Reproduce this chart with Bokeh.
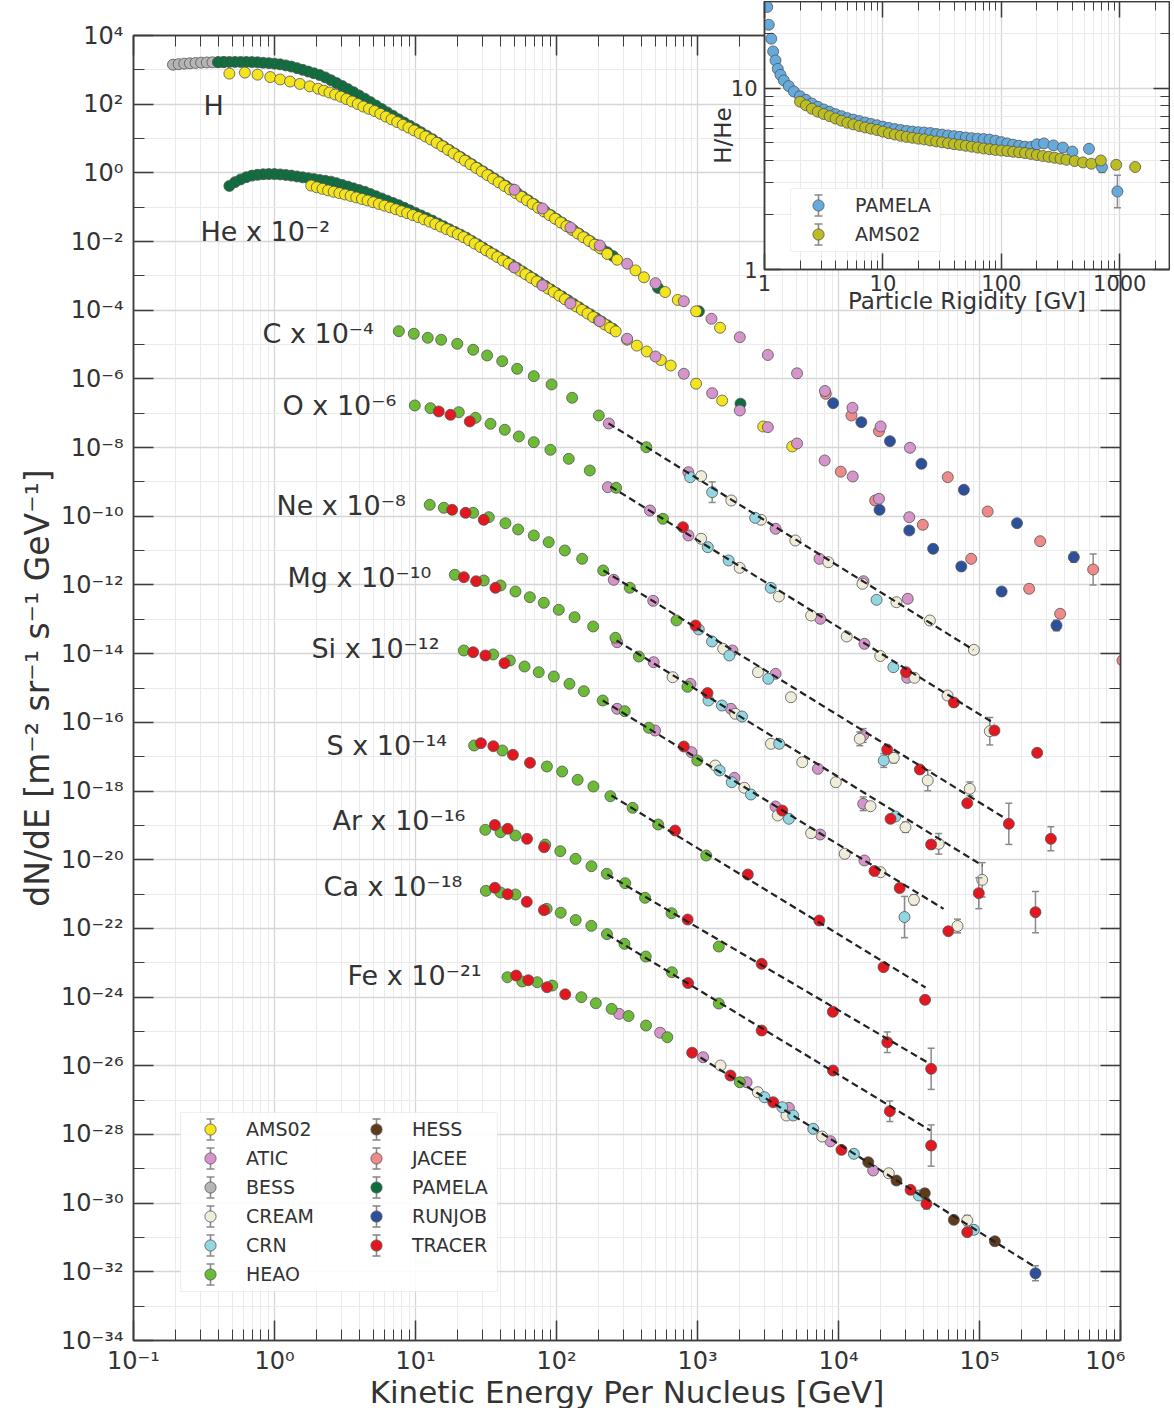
import numpy as np
from bokeh.plotting import figure
from bokeh.models import (FixedTicker, LogAxis, Label, Legend, LegendItem, BoxAnnotation,
                          CustomJSTickFormatter, Range1d)
from bokeh.layouts import column
from bokeh.embed import file_html
from bokeh.resources import INLINE

# ------------------------------------------------------------------
# DATA  (log10 kinetic energy per nucleus [GeV], log10 scaled flux)
# ------------------------------------------------------------------
H_BESS = [(-0.72, 3.15), (-0.68, 3.165), (-0.64, 3.18), (-0.60, 3.19), (-0.56, 3.20),
          (-0.52, 3.21), (-0.48, 3.215), (-0.44, 3.22), (-0.40, 3.225), (-0.36, 3.23)]

H_PAMELA = [(-0.40, 3.22), (-0.36, 3.225), (-0.32, 3.23), (-0.28, 3.23), (-0.24, 3.23), (-0.20, 3.23),
            (-0.16, 3.225), (-0.12, 3.22), (-0.08, 3.205), (-0.04, 3.195), (0.00, 3.18), (0.04, 3.16),
            (0.08, 3.13), (0.12, 3.095), (0.16, 3.05), (0.20, 3.00), (0.24, 2.95), (0.28, 2.90),
            (0.32, 2.85), (0.36, 2.78), (0.40, 2.70), (0.44, 2.615), (0.48, 2.53), (0.52, 2.44),
            (0.56, 2.35), (0.60, 2.255), (0.64, 2.16), (0.68, 2.06), (0.72, 1.96), (0.76, 1.86),
            (0.80, 1.76), (0.84, 1.66), (0.88, 1.56), (0.92, 1.465), (0.96, 1.37), (1.00, 1.28),
            (1.04, 1.18), (1.08, 1.08), (1.12, 0.98), (1.16, 0.875), (1.20, 0.77), (1.24, 0.665),
            (1.28, 0.56), (1.32, 0.46), (1.36, 0.355), (1.40, 0.25), (1.44, 0.145), (1.48, 0.04),
            (1.52, -0.06), (1.56, -0.165), (1.60, -0.27), (1.64, -0.375), (1.68, -0.48), (1.72, -0.585),
            (1.76, -0.69), (1.80, -0.80), (1.84, -0.91), (1.88, -1.015), (1.92, -1.125), (1.96, -1.23),
            (2.00, -1.34), (2.04, -1.45), (2.08, -1.555), (2.12, -1.665), (2.16, -1.77), (2.20, -1.88),
            (2.24, -1.99), (2.28, -2.095), (2.32, -2.205), (2.36, -2.31), (2.40, -2.42),
            (2.72, -3.35), (3.01, -4.03)]

H_AMS02 = [(-0.32, 2.89), (-0.21, 2.92), (-0.12, 2.86), (-0.03, 2.79), (0.04, 2.72), (0.11, 2.66),
           (0.18, 2.59), (0.25, 2.52), (0.31, 2.45), (0.35, 2.395), (0.39, 2.34), (0.43, 2.28),
           (0.47, 2.22), (0.51, 2.15), (0.55, 2.08), (0.59, 2.005), (0.63, 1.93), (0.67, 1.865),
           (0.71, 1.80), (0.75, 1.72), (0.79, 1.64), (0.83, 1.56), (0.87, 1.48), (0.91, 1.40),
           (0.95, 1.32), (0.99, 1.235), (1.03, 1.15), (1.07, 1.06), (1.11, 0.97), (1.15, 0.875),
           (1.19, 0.775), (1.23, 0.67), (1.27, 0.565), (1.31, 0.46), (1.35, 0.355), (1.39, 0.25),
           (1.43, 0.145), (1.47, 0.04), (1.51, -0.065), (1.55, -0.17), (1.59, -0.275), (1.63, -0.38),
           (1.67, -0.485), (1.71, -0.59), (1.75, -0.695), (1.79, -0.80), (1.83, -0.905), (1.87, -1.015),
           (1.91, -1.12), (1.95, -1.23), (1.99, -1.335), (2.03, -1.445), (2.07, -1.55), (2.11, -1.66),
           (2.15, -1.765), (2.19, -1.875), (2.23, -1.98), (2.27, -2.09), (2.31, -2.195), (2.36, -2.36),
           (2.43, -2.53), (2.56, -2.84), (2.62, -3.04), (2.77, -3.47), (2.86, -3.70), (2.99, -4.03),
           (3.16, -4.51)]

He_PAMELA = [(-0.32, -0.38), (-0.28, -0.27), (-0.24, -0.19), (-0.20, -0.125), (-0.16, -0.08),
             (-0.12, -0.055), (-0.08, -0.04), (-0.04, -0.035), (0.00, -0.035), (0.04, -0.045),
             (0.08, -0.06), (0.12, -0.08), (0.16, -0.105), (0.20, -0.13), (0.24, -0.155), (0.28, -0.18),
             (0.32, -0.205), (0.36, -0.23), (0.40, -0.255), (0.44, -0.30), (0.48, -0.35), (0.52, -0.40),
             (0.56, -0.45), (0.60, -0.50), (0.64, -0.55), (0.68, -0.615), (0.72, -0.68), (0.76, -0.745),
             (0.80, -0.81), (0.84, -0.875), (0.88, -0.94), (0.92, -1.015), (0.96, -1.09), (1.00, -1.165),
             (1.04, -1.24), (1.08, -1.315), (1.12, -1.39), (1.16, -1.475), (1.20, -1.555), (1.24, -1.64),
             (1.28, -1.72), (1.32, -1.80), (1.36, -1.885), (1.40, -1.985), (1.44, -2.08), (1.48, -2.18),
             (1.52, -2.28), (1.56, -2.375), (1.60, -2.475), (1.64, -2.57), (1.68, -2.67), (1.72, -2.77),
             (1.76, -2.875), (1.80, -2.98), (1.84, -3.08), (1.88, -3.185), (1.92, -3.29), (1.96, -3.395),
             (2.00, -3.50), (2.04, -3.60), (2.08, -3.705), (2.12, -3.81), (2.16, -3.915), (2.20, -4.02),
             (2.24, -4.12), (2.28, -4.225), (2.32, -4.33), (2.36, -4.435), (2.40, -4.54), (3.305, -6.72)]

He_AMS02 = [(0.26, -0.37), (0.30, -0.42), (0.34, -0.465), (0.38, -0.51), (0.42, -0.55), (0.46, -0.59),
            (0.50, -0.63), (0.54, -0.67), (0.58, -0.715), (0.62, -0.76), (0.66, -0.805), (0.70, -0.855),
            (0.74, -0.905), (0.78, -0.955), (0.82, -1.005), (0.86, -1.06), (0.90, -1.115), (0.94, -1.17),
            (0.98, -1.23), (1.02, -1.29), (1.06, -1.355), (1.10, -1.42), (1.14, -1.49), (1.18, -1.565),
            (1.22, -1.64), (1.26, -1.71), (1.30, -1.785), (1.34, -1.87), (1.38, -1.96), (1.42, -2.06),
            (1.46, -2.155), (1.50, -2.255), (1.54, -2.35), (1.58, -2.45), (1.62, -2.55), (1.66, -2.645),
            (1.70, -2.745), (1.74, -2.85), (1.78, -2.95), (1.82, -3.055), (1.86, -3.16), (1.90, -3.26),
            (1.94, -3.37), (1.98, -3.47), (2.02, -3.575), (2.06, -3.68), (2.10, -3.78), (2.14, -3.89),
            (2.18, -3.99), (2.22, -4.095), (2.26, -4.20), (2.30, -4.30), (2.34, -4.41), (2.38, -4.51),
            (2.42, -4.615), (2.50, -4.86), (2.57, -5.03), (2.64, -5.20), (2.74, -5.45), (2.81, -5.61),
            (2.99, -6.14), (3.175, -6.63), (3.466, -7.385), (3.672, -7.967)]

# (experiment, log10 E, log10 scaled flux, error in dex)
H_POINTS = [
    ("ATIC", 1.702, -0.492, 0), ("ATIC", 1.901, -1.037, 0), ("ATIC", 2.099, -1.590, 0),
    ("ATIC", 2.307, -2.114, 0), ("ATIC", 2.501, -2.647, 0), ("ATIC", 2.702, -3.212, 0),
    ("ATIC", 2.903, -3.736, 0), ("ATIC", 3.099, -4.249, 0), ("ATIC", 3.300, -4.785, 0),
    ("ATIC", 3.499, -5.303, 0), ("ATIC", 3.706, -5.836, 0), ("ATIC", 3.904, -6.351, 0),
    ("ATIC", 4.099, -6.840, 0), ("ATIC", 4.299, -7.385, 0), ("ATIC", 4.507, -8.005, 0),
    ("JACEE", 3.910, -6.433, 0), ("JACEE", 4.092, -7.065, 0), ("JACEE", 4.287, -7.522, 0),
    ("JACEE", 4.775, -8.861, 0), ("JACEE", 5.058, -9.860, 0), ("JACEE", 5.430, -10.725, 0),
    ("JACEE", 5.806, -11.549, 0.45),
    ("RUNJOB", 3.962, -6.706, 0), ("RUNJOB", 4.162, -7.260, 0), ("RUNJOB", 4.365, -7.813, 0),
    ("RUNJOB", 4.588, -8.471, 0), ("RUNJOB", 4.889, -9.228, 0), ("RUNJOB", 5.266, -10.201, 0),
    ("RUNJOB", 5.669, -11.191, 0.15),
]
He_POINTS = [
    ("ATIC", 1.702, -2.755, 0), ("ATIC", 1.901, -3.279, 0), ("ATIC", 2.099, -3.803, 0),
    ("ATIC", 2.307, -4.319, 0), ("ATIC", 2.501, -4.831, 0), ("ATIC", 2.702, -5.347, 0),
    ("ATIC", 2.903, -5.850, 0), ("ATIC", 3.104, -6.415, 0), ("ATIC", 3.300, -6.919, 0),
    ("ATIC", 3.499, -7.405, 0), ("ATIC", 3.706, -7.880, 0), ("ATIC", 3.902, -8.375, 0),
    ("ATIC", 4.101, -8.841, 0), ("ATIC", 4.287, -9.490, 0), ("ATIC", 4.502, -10.026, 0),
    ("JACEE", 4.016, -8.701, 0), ("JACEE", 4.260, -9.540, 0), ("JACEE", 4.598, -10.247, 0),
    ("JACEE", 4.941, -11.238, 0), ("JACEE", 5.352, -12.111, 0), ("JACEE", 5.572, -12.839, 0),
    ("JACEE", 6.014, -14.199, 0),
    ("RUNJOB", 4.291, -9.811, 0), ("RUNJOB", 4.502, -10.413, 0), ("RUNJOB", 4.671, -10.946, 0),
    ("RUNJOB", 4.871, -11.462, 0), ("RUNJOB", 5.157, -12.190, 0), ("RUNJOB", 5.546, -13.180, 0.15),
]
C_POINTS = [
    ("HEAO", 0.882, -4.610, 0), ("HEAO", 0.988, -4.685, 0), ("HEAO", 1.087, -4.802, 0),
    ("HEAO", 1.182, -4.860, 0), ("HEAO", 1.296, -4.977, 0), ("HEAO", 1.409, -5.151, 0),
    ("HEAO", 1.508, -5.317, 0), ("HEAO", 1.615, -5.483, 0), ("HEAO", 1.721, -5.705, 0),
    ("HEAO", 1.839, -5.920, 0), ("HEAO", 1.965, -6.162, 0), ("HEAO", 2.111, -6.549, 0),
    ("HEAO", 2.300, -7.065, 0), ("HEAO", 2.637, -7.988, 0),
    ("ATIC", 2.371, -7.298, 0), ("ATIC", 2.935, -8.716, 0), ("ATIC", 3.554, -10.364, 0),
    ("ATIC", 3.865, -11.238, 0), ("ATIC", 4.177, -11.890, 0), ("ATIC", 4.491, -12.402, 0),
    ("CREAM", 3.026, -8.832, 0), ("CREAM", 3.240, -9.540, 0), ("CREAM", 3.450, -10.102, 0),
    ("CREAM", 3.694, -10.705, 0), ("CREAM", 3.928, -11.337, 0), ("CREAM", 4.170, -11.966, 0),
    ("CREAM", 4.411, -12.502, 0), ("CREAM", 4.648, -13.034, 0), ("CREAM", 4.960, -13.888, 0),
    ("CRN", 2.948, -8.861, 0), ("CRN", 3.104, -9.298, 0.3), ("CRN", 3.409, -10.044, 0),
    ("CRN", 4.270, -12.432, 0),
]
O_POINTS = [
    ("HEAO", 0.995, -6.773, 0), ("HEAO", 1.106, -6.852, 0), ("HEAO", 1.307, -6.969, 0),
    ("HEAO", 1.426, -7.132, 0), ("HEAO", 1.532, -7.306, 0), ("HEAO", 1.633, -7.481, 0),
    ("HEAO", 1.733, -7.676, 0), ("HEAO", 1.839, -7.842, 0), ("HEAO", 1.957, -8.063, 0),
    ("HEAO", 2.087, -8.326, 0), ("HEAO", 2.236, -8.666, 0), ("HEAO", 2.423, -9.170, 0),
    ("HEAO", 2.755, -10.073, 0),
    ("TRACER", 1.165, -6.948, 0), ("TRACER", 1.248, -7.044, 0), ("TRACER", 1.385, -7.239, 0),
    ("TRACER", 2.897, -10.317, 0), ("TRACER", 4.479, -14.540, 0), ("TRACER", 4.818, -15.422, 0),
    ("TRACER", 5.106, -16.237, 0), ("TRACER", 5.409, -16.887, 0),
    ("ATIC", 2.364, -9.153, 0), ("ATIC", 2.663, -9.831, 0), ("ATIC", 2.936, -10.559, 0),
    ("ATIC", 3.871, -12.985, 0), ("ATIC", 4.184, -13.713, 0), ("ATIC", 4.487, -14.703, 0),
    ("CREAM", 3.026, -10.655, 0), ("CREAM", 3.299, -11.500, 0), ("CREAM", 3.577, -12.335, 0),
    ("CREAM", 3.806, -12.889, 0), ("CREAM", 4.058, -13.500, 0), ("CREAM", 4.296, -14.068, 0),
    ("CREAM", 4.539, -14.703, 0), ("CREAM", 4.773, -15.218, 0), ("CREAM", 5.073, -16.258, 0.4),
    ("CRN", 3.073, -10.900, 0), ("CRN", 3.221, -11.287, 0), ("CRN", 3.520, -12.082, 0),
    ("CRN", 4.389, -14.394, 0),
]
Ne_POINTS = [
    ("HEAO", 1.101, -9.665, 0), ("HEAO", 1.201, -9.752, 0), ("HEAO", 1.409, -9.898, 0),
    ("HEAO", 1.520, -10.026, 0), ("HEAO", 1.638, -10.201, 0), ("HEAO", 1.728, -10.384, 0),
    ("HEAO", 1.839, -10.559, 0), ("HEAO", 1.945, -10.754, 0), ("HEAO", 2.059, -10.996, 0),
    ("HEAO", 2.182, -11.238, 0), ("HEAO", 2.331, -11.578, 0), ("HEAO", 2.520, -12.082, 0),
    ("HEAO", 2.851, -13.034, 0),
    ("TRACER", 1.260, -9.811, 0), ("TRACER", 1.355, -9.898, 0), ("TRACER", 1.484, -10.102, 0),
    ("TRACER", 2.986, -13.180, 0), ("TRACER", 4.345, -16.791, 0), ("TRACER", 4.577, -17.373, 0),
    ("TRACER", 4.913, -18.355, 0), ("TRACER", 5.208, -18.955, 0.6), ("TRACER", 5.506, -19.392, 0.35),
    ("ATIC", 2.406, -11.849, 0), ("ATIC", 2.686, -12.461, 0), ("ATIC", 3.248, -13.908, 0),
    ("ATIC", 3.554, -14.586, 0), ("ATIC", 4.175, -16.383, 0.2),
    ("CREAM", 3.182, -13.858, 0), ("CREAM", 3.429, -14.540, 0), ("CREAM", 3.663, -15.268, 0),
    ("CREAM", 4.151, -16.479, 0.2), ("CREAM", 4.392, -17.032, 0.15), ("CREAM", 4.633, -17.693, 0.3),
    ("CREAM", 4.931, -17.935, 0.2),
    ("CRN", 3.009, -13.294, 0), ("CRN", 3.103, -13.646, 0), ("CRN", 3.226, -14.054, 0),
    ("CRN", 3.502, -14.732, 0), ("CRN", 4.321, -17.111, 0.2),
]
Mg_POINTS = [
    ("HEAO", 1.279, -11.703, 0), ("HEAO", 1.484, -11.870, 0), ("HEAO", 1.603, -12.015, 0),
    ("HEAO", 1.709, -12.190, 0), ("HEAO", 1.811, -12.356, 0), ("HEAO", 1.910, -12.519, 0),
    ("HEAO", 2.016, -12.723, 0), ("HEAO", 2.128, -12.938, 0), ("HEAO", 2.260, -13.209, 0),
    ("HEAO", 2.418, -13.538, 0), ("HEAO", 2.584, -14.083, 0), ("HEAO", 2.929, -14.965, 0),
    ("TRACER", 1.343, -11.773, 0), ("TRACER", 1.430, -11.890, 0), ("TRACER", 1.567, -12.082, 0),
    ("TRACER", 3.071, -15.146, 0), ("TRACER", 4.369, -18.809, 0), ("TRACER", 4.657, -19.557, 0),
    ("TRACER", 4.995, -20.975, 0.45), ("TRACER", 5.397, -21.529, 0.6),
    ("ATIC", 2.430, -13.666, 0), ("ATIC", 2.689, -14.249, 0), ("ATIC", 2.950, -14.878, 0),
    ("ATIC", 3.237, -15.606, 0), ("ATIC", 3.854, -17.353, 0), ("ATIC", 4.175, -18.372, 0.2),
    ("CREAM", 2.824, -14.686, 0), ("CREAM", 3.268, -15.751, 0), ("CREAM", 3.521, -16.625, 0),
    ("CREAM", 3.743, -17.161, 0), ("CREAM", 3.981, -17.743, 0), ("CREAM", 4.227, -18.442, 0),
    ("CREAM", 4.475, -19.054, 0.15), ("CREAM", 4.711, -19.537, 0.3), ("CREAM", 5.019, -20.586, 0.5),
    ("CRN", 3.078, -15.364, 0), ("CRN", 3.173, -15.510, 0), ("CRN", 3.316, -15.830, 0),
    ("CRN", 3.579, -16.625, 0), ("CRN", 4.404, -18.742, 0),
]
Si_POINTS = [
    ("HEAO", 1.343, -13.908, 0), ("HEAO", 1.551, -14.024, 0), ("HEAO", 1.669, -14.199, 0),
    ("HEAO", 1.773, -14.374, 0), ("HEAO", 1.874, -14.540, 0), ("HEAO", 1.981, -14.665, 0),
    ("HEAO", 2.092, -14.878, 0), ("HEAO", 2.194, -15.093, 0), ("HEAO", 2.328, -15.364, 0),
    ("HEAO", 2.484, -15.676, 0), ("HEAO", 2.655, -16.159, 0), ("HEAO", 2.999, -17.111, 0),
    ("TRACER", 1.409, -13.958, 0), ("TRACER", 1.496, -14.054, 0), ("TRACER", 1.631, -14.278, 0),
    ("TRACER", 2.903, -16.704, 0), ("TRACER", 3.601, -18.567, 0), ("TRACER", 4.255, -20.329, 0),
    ("TRACER", 4.434, -20.824, 0), ("TRACER", 4.779, -22.082, 0),
    ("ATIC", 2.430, -15.606, 0), ("ATIC", 2.699, -16.238, 0), ("ATIC", 2.957, -16.869, 0),
    ("ATIC", 3.262, -17.615, 0), ("ATIC", 3.553, -18.451, 0), ("ATIC", 3.870, -19.266, 0),
    ("ATIC", 4.184, -20.023, 0),
    ("CREAM", 3.126, -17.257, 0), ("CREAM", 3.332, -17.906, 0), ("CREAM", 3.569, -18.713, 0),
    ("CREAM", 3.806, -19.228, 0), ("CREAM", 4.044, -19.828, 0), ("CREAM", 4.298, -20.364, 0),
    ("CREAM", 4.535, -21.168, 0.15), ("CREAM", 4.844, -21.931, 0.2),
    ("CRN", 3.157, -17.402, 0), ("CRN", 3.243, -17.743, 0), ("CRN", 3.379, -18.101, 0),
    ("CRN", 3.648, -18.809, 0), ("CRN", 4.468, -21.669, 0.6),
]
S_POINTS = [
    ("HEAO", 1.416, -16.674, 0), ("HEAO", 1.616, -16.820, 0), ("HEAO", 1.932, -17.286, 0),
    ("HEAO", 2.040, -17.432, 0), ("HEAO", 2.150, -17.673, 0), ("HEAO", 2.262, -17.868, 0),
    ("HEAO", 2.382, -18.151, 0), ("HEAO", 2.540, -18.489, 0), ("HEAO", 2.721, -18.975, 0),
    ("HEAO", 3.062, -19.878, 0),
    ("TRACER", 1.464, -16.607, 0), ("TRACER", 1.552, -16.695, 0), ("TRACER", 1.691, -16.945, 0),
    ("TRACER", 1.812, -17.178, 0), ("TRACER", 2.841, -19.150, 0), ("TRACER", 3.357, -20.431, 0),
    ("TRACER", 3.864, -21.771, 0), ("TRACER", 4.319, -23.130, 0), ("TRACER", 4.614, -24.080, 0),
]
Ar_POINTS = [
    ("HEAO", 1.495, -19.129, 0), ("HEAO", 1.603, -19.199, 0), ("HEAO", 1.709, -19.295, 0),
    ("HEAO", 1.920, -19.560, 0), ("HEAO", 2.027, -19.752, 0), ("HEAO", 2.135, -19.974, 0),
    ("HEAO", 2.248, -20.189, 0), ("HEAO", 2.357, -20.410, 0), ("HEAO", 2.487, -20.684, 0),
    ("HEAO", 2.628, -21.109, 0), ("HEAO", 2.816, -21.558, 0), ("HEAO", 3.151, -22.528, 0),
    ("TRACER", 1.563, -18.989, 0), ("TRACER", 1.654, -19.100, 0), ("TRACER", 1.791, -19.391, 0),
    ("TRACER", 1.912, -19.636, 0), ("TRACER", 2.930, -21.742, 0), ("TRACER", 3.455, -23.032, 0),
    ("TRACER", 3.960, -24.427, 0), ("TRACER", 4.346, -25.315, 0.3), ("TRACER", 4.657, -26.089, 0.6),
]
Ca_POINTS = [
    ("HEAO", 1.499, -20.906, 0), ("HEAO", 1.603, -20.955, 0), ("HEAO", 1.709, -21.013, 0),
    ("HEAO", 1.930, -21.430, 0), ("HEAO", 2.030, -21.543, 0), ("HEAO", 2.136, -21.756, 0),
    ("HEAO", 2.247, -21.925, 0), ("HEAO", 2.358, -22.167, 0), ("HEAO", 2.482, -22.449, 0),
    ("HEAO", 2.633, -22.819, 0), ("HEAO", 2.818, -23.276, 0), ("HEAO", 3.151, -24.188, 0),
    ("TRACER", 1.563, -20.818, 0), ("TRACER", 1.654, -21.004, 0), ("TRACER", 1.789, -21.226, 0),
    ("TRACER", 1.911, -21.468, 0), ("TRACER", 2.933, -23.591, 0), ("TRACER", 3.455, -24.974, 0),
    ("TRACER", 3.961, -26.139, 0), ("TRACER", 4.364, -27.324, 0.3), ("TRACER", 4.657, -28.323, 0.6),
]
Fe_POINTS = [
    ("HEAO", 1.652, -23.422, 0), ("HEAO", 1.757, -23.546, 0), ("HEAO", 1.863, -23.567, 0),
    ("HEAO", 1.970, -23.664, 0), ("HEAO", 2.176, -24.004, 0), ("HEAO", 2.279, -24.179, 0),
    ("HEAO", 2.391, -24.342, 0), ("HEAO", 2.511, -24.552, 0), ("HEAO", 2.635, -24.828, 0),
    ("HEAO", 2.786, -25.169, 0), ("HEAO", 3.300, -26.480, 0),
    ("TRACER", 1.714, -23.372, 0), ("TRACER", 1.800, -23.509, 0), ("TRACER", 1.933, -23.713, 0),
    ("TRACER", 2.062, -23.920, 0), ("TRACER", 2.962, -25.620, 0), ("TRACER", 3.234, -26.284, 0),
    ("TRACER", 3.537, -27.062, 0), ("TRACER", 4.021, -28.448, 0), ("TRACER", 4.511, -29.613, 0),
    ("TRACER", 4.624, -30.020, 0.15), ("TRACER", 4.913, -30.847, 0.1),
    ("ATIC", 2.444, -24.488, 0), ("ATIC", 2.735, -25.038, 0), ("ATIC", 3.040, -25.752, 0),
    ("ATIC", 3.348, -26.480, 0), ("ATIC", 3.648, -27.225, 0), ("ATIC", 3.943, -28.198, 0),
    ("ATIC", 4.246, -29.051, 0),
    ("CREAM", 3.163, -25.993, 0), ("CREAM", 3.428, -26.770, 0), ("CREAM", 3.631, -27.449, 0),
    ("CREAM", 3.884, -28.061, 0), ("CREAM", 4.357, -29.130, 0), ("CREAM", 4.913, -30.507, 0.15),
    ("CRN", 3.475, -26.916, 0), ("CRN", 3.601, -27.207, 0), ("CRN", 3.679, -27.449, 0),
    ("CRN", 3.821, -27.836, 0), ("CRN", 4.109, -28.564, 0), ("CRN", 4.570, -29.778, 0),
    ("CRN", 4.960, -30.777, 0.12),
    ("HESS", 4.211, -28.809, 0), ("HESS", 4.411, -29.342, 0), ("HESS", 4.612, -29.712, 0.12),
    ("HESS", 4.818, -30.487, 0), ("HESS", 5.109, -31.110, 0),
    ("RUNJOB", 5.397, -32.042, 0.22),
]

# power-law fits: (log E start, log F start, log E end, log F end)
C_FIT = (2.369, -7.296, 4.957, -13.888)
O_FIT = (2.383, -9.132, 5.106, -16.034)
Ne_FIT = (2.333, -11.578, 5.184, -18.800)
Mg_FIT = (2.426, -13.617, 5.021, -20.169)
Si_FIT = (2.328, -15.364, 4.745, -21.430)
S_FIT = (2.390, -18.131, 4.617, -23.722)
Ar_FIT = (2.360, -20.431, 4.629, -25.897)
Ca_FIT = (2.360, -22.178, 4.652, -27.886)
Fe_FIT = (3.021, -25.760, 5.397, -31.867)

# element labels: text, log E (left edge), log F (centre)
ELEMENT_LABELS = [
    ("H", -0.504, 1.963), ("He x 10⁻²", -0.525, -1.706), ("C x 10⁻⁴", -0.085, -4.677),
    ("O x 10⁻⁶", 0.057, -6.77), ("Ne x 10⁻⁸", 0.014, -9.686), ("Mg x 10⁻¹⁰", 0.092, -11.78),
    ("Si x 10⁻¹²", 0.262, -13.85), ("S x 10⁻¹⁴", 0.369, -16.67), ("Ar x 10⁻¹⁶", 0.411, -18.86),
    ("Ca x 10⁻¹⁸", 0.348, -20.78), ("Fe x 10⁻²¹", 0.518, -23.37),
]

# inset: log10 rigidity [GV], log10 H/He, error (dex)
RATIO_PAMELA = [
    (0.023, 1.447, 0), (0.036, 1.349, 0), (0.057, 1.272, 0), (0.073, 1.202, 0), (0.093, 1.152, 0),
    (0.112, 1.106, 0), (0.135, 1.073, 0), (0.163, 1.042, 0), (0.205, 1.011, 0), (0.248, 0.981, 0),
    (0.30, 0.955, 0), (0.35, 0.935, 0), (0.40, 0.915, 0), (0.45, 0.897, 0), (0.50, 0.882, 0),
    (0.55, 0.869, 0), (0.60, 0.856, 0), (0.65, 0.845, 0), (0.70, 0.834, 0), (0.75, 0.826, 0),
    (0.80, 0.818, 0), (0.85, 0.810, 0), (0.90, 0.802, 0), (0.95, 0.795, 0), (1.00, 0.787, 0),
    (1.05, 0.780, 0), (1.10, 0.774, 0), (1.15, 0.769, 0), (1.20, 0.764, 0), (1.25, 0.760, 0),
    (1.30, 0.757, 0), (1.35, 0.755, 0), (1.40, 0.752, 0), (1.45, 0.747, 0), (1.50, 0.743, 0),
    (1.55, 0.739, 0), (1.60, 0.735, 0), (1.65, 0.731, 0), (1.70, 0.727, 0), (1.75, 0.724, 0),
    (1.80, 0.721, 0), (1.85, 0.719, 0), (1.90, 0.716, 0), (1.95, 0.710, 0), (2.00, 0.702, 0),
    (2.05, 0.695, 0), (2.10, 0.688, 0), (2.15, 0.682, 0), (2.20, 0.677, 0), (2.25, 0.675, 0),
    (2.30, 0.690, 0), (2.36, 0.695, 0), (2.44, 0.684, 0), (2.52, 0.672, 0), (2.60, 0.650, 0),
    (2.74, 0.665, 0), (2.85, 0.564, 0.03), (2.98, 0.430, 0.09),
]
RATIO_AMS02 = [
    (0.30, 0.925, 0), (0.35, 0.905, 0), (0.40, 0.886, 0), (0.45, 0.870, 0), (0.50, 0.857, 0),
    (0.55, 0.845, 0), (0.60, 0.832, 0), (0.65, 0.820, 0), (0.70, 0.809, 0), (0.75, 0.800, 0),
    (0.80, 0.791, 0), (0.85, 0.783, 0), (0.90, 0.776, 0), (0.95, 0.769, 0), (1.00, 0.760, 0),
    (1.05, 0.751, 0), (1.10, 0.744, 0), (1.15, 0.737, 0), (1.20, 0.731, 0), (1.25, 0.726, 0),
    (1.30, 0.721, 0), (1.35, 0.717, 0), (1.40, 0.711, 0), (1.45, 0.706, 0), (1.50, 0.701, 0),
    (1.55, 0.696, 0), (1.60, 0.691, 0), (1.65, 0.687, 0), (1.70, 0.682, 0), (1.75, 0.677, 0),
    (1.80, 0.672, 0), (1.85, 0.667, 0), (1.90, 0.663, 0), (1.95, 0.659, 0), (2.00, 0.656, 0),
    (2.05, 0.653, 0), (2.10, 0.649, 0), (2.15, 0.646, 0), (2.20, 0.642, 0), (2.25, 0.637, 0),
    (2.30, 0.631, 0), (2.35, 0.626, 0), (2.40, 0.621, 0), (2.45, 0.616, 0), (2.50, 0.611, 0),
    (2.55, 0.605, 0), (2.62, 0.598, 0), (2.69, 0.590, 0), (2.76, 0.583, 0), (2.84, 0.601, 0),
    (2.97, 0.577, 0), (3.13, 0.565, 0),
]

EXPERIMENTS = ["AMS02", "ATIC", "BESS", "CREAM", "CRN", "HEAO",
               "HESS", "JACEE", "PAMELA", "RUNJOB", "TRACER"]

# ------------------------------------------------------------------
# STYLE
# ------------------------------------------------------------------
FONT = "DejaVu Sans"
COLORS = {"AMS02": "#f3e41d", "ATIC": "#d595ca", "BESS": "#b5b5b5", "CREAM": "#efedda",
          "CRN": "#92d6e1", "HEAO": "#6cba36", "HESS": "#5e3b1b", "JACEE": "#ef8a8a",
          "PAMELA": "#0b6e3d", "RUNJOB": "#2d509c", "TRACER": "#e3171f"}
EDGE = "#545454"
ERR = "#8a8a8a"
SPINE = "#3c3c3c"
TXT = "#333333"
MS = 11

SUP_JS = """
const s = {"-":"⁻","0":"⁰","1":"¹","2":"²","3":"³","4":"⁴","5":"⁵","6":"⁶","7":"⁷","8":"⁸","9":"⁹"};
const e = Math.round(Math.log10(tick));
let out = "10";
for (const c of String(e)) { out += s[c]; }
return out;
"""


def style_axis(ax, ticker, fmt, fs, standoff, maj, mnr):
    ax.ticker = ticker
    ax.formatter = fmt
    ax.major_tick_in = maj
    ax.major_tick_out = 0
    ax.minor_tick_in = mnr
    ax.minor_tick_out = 0
    ax.major_label_text_font = FONT
    ax.major_label_text_font_size = fs
    ax.major_label_text_color = TXT
    ax.major_label_standoff = standoff
    ax.axis_line_color = SPINE
    ax.axis_line_width = 1.5
    ax.major_tick_line_color = SPINE
    ax.major_tick_line_width = 1.5
    ax.minor_tick_line_color = SPINE
    ax.minor_tick_line_width = 1.0


def axis_title(ax, text, fs, standoff):
    ax.axis_label = text
    ax.axis_label_text_font = FONT
    ax.axis_label_text_font_size = fs
    ax.axis_label_text_font_style = "normal"
    ax.axis_label_text_color = TXT
    ax.axis_label_standoff = standoff


def draw(fig, rows, color, size=MS):
    le = np.array([r[0] for r in rows], dtype=float)
    lf = np.array([r[1] for r in rows], dtype=float)
    er = np.array([r[2] for r in rows], dtype=float)
    m = er > 0
    if m.any():
        x = 10 ** le[m]
        lo = 10 ** (lf[m] - er[m])
        hi = 10 ** (lf[m] + er[m])
        fig.segment(x0=x, y0=lo, x1=x, y1=hi, line_color=ERR, line_width=1.5)
        fig.scatter(x=np.r_[x, x], y=np.r_[lo, hi], marker="dash", size=7,
                    line_color=ERR, line_width=1.5)
    fig.scatter(x=10 ** le, y=10 ** lf, size=size, fill_color=color,
                line_color=EDGE, line_width=0.8)


def screen_box(fig, l, r, b, t, **kw):
    fig.add_layout(BoxAnnotation(left=l, right=r, bottom=b, top=t, left_units="screen",
                                 right_units="screen", bottom_units="screen",
                                 top_units="screen", **kw))


def legend_bars(fig, xc, ycs):
    # vertical error-bar symbols behind the legend markers
    for yc in ycs:
        screen_box(fig, xc - 0.8, xc + 0.8, yc - 10.5, yc + 10.5, fill_color=ERR,
                   fill_alpha=1, line_alpha=0)
        for yy in (yc - 10.5, yc + 10.5):
            screen_box(fig, xc - 4, xc + 4, yy - 0.8, yy + 0.8, fill_color=ERR,
                       fill_alpha=1, line_alpha=0)


# ------------------------------------------------------------------
# MAIN FIGURE
# ------------------------------------------------------------------
MB_LEFT, MB_TOP, MB_BOTTOM, FH = 133, 35, 68, 1305
MAIN_H = MB_TOP + FH + MB_BOTTOM

p = figure(frame_width=987, frame_height=FH, x_axis_type="log", y_axis_type="log",
           x_range=Range1d(1e-1, 1e6), y_range=Range1d(1e-34, 1e4),
           output_backend="svg", toolbar_location=None,
           min_border_left=MB_LEFT, min_border_right=5, min_border_top=MB_TOP,
           min_border_bottom=MB_BOTTOM, background_fill_color="white",
           border_fill_color="white")
p.outline_line_color = SPINE
p.outline_line_width = 1.5

x_tick = FixedTicker(ticks=[10.0 ** k for k in range(-1, 7)],
                     minor_ticks=[m * 10.0 ** k for k in range(-1, 6) for m in range(2, 10)])
y_tick = FixedTicker(ticks=[10.0 ** k for k in range(-34, 5, 2)],
                     minor_ticks=[10.0 ** k for k in range(-33, 4, 2)])
sup_fmt = CustomJSTickFormatter(code=SUP_JS)
blank = CustomJSTickFormatter(code="return '';")

style_axis(p.xaxis[0], x_tick, sup_fmt, "24px", 6, 20, 11)
style_axis(p.yaxis[0], y_tick, sup_fmt, "24px", 10, 20, 11)
axis_title(p.xaxis[0], "Kinetic Energy Per Nucleus [GeV]", "31px", -4)
axis_title(p.yaxis[0], "dN/dE [m⁻² sr⁻¹ s⁻¹ GeV⁻¹]", "33px", 1)
ax_r = LogAxis()
style_axis(ax_r, y_tick, blank, "1px", 0, 20, 11)
p.add_layout(ax_r, "right")
ax_t = LogAxis()
style_axis(ax_t, x_tick, blank, "1px", 0, 20, 11)
p.add_layout(ax_t, "above")

for g, t in ((p.xgrid[0], x_tick), (p.ygrid[0], y_tick)):
    g.ticker = t
    g.grid_line_color = "#d6d6d6"
    g.grid_line_width = 1.3
    g.minor_grid_line_color = "#ebebeb"
    g.minor_grid_line_width = 1.0

ELEMENTS = [H_POINTS, He_POINTS, C_POINTS, O_POINTS, Ne_POINTS, Mg_POINTS,
            Si_POINTS, S_POINTS, Ar_POINTS, Ca_POINTS, Fe_POINTS]
DENSE = {"BESS": [H_BESS], "PAMELA": [H_PAMELA, He_PAMELA], "AMS02": [H_AMS02, He_AMS02]}
DRAW_ORDER = ["BESS", "PAMELA", "AMS02", "JACEE", "RUNJOB", "ATIC", "CREAM", "CRN",
              "HEAO", "TRACER", "HESS"]

for exp in DRAW_ORDER:
    rows = []
    for d in DENSE.get(exp, []):
        rows += [(e, f, 0.0) for e, f in d]
    for el in ELEMENTS:
        rows += [(e, f, er) for (x, e, f, er) in el if x == exp]
    draw(p, rows, COLORS[exp])

for fit in (C_FIT, O_FIT, Ne_FIT, Mg_FIT, Si_FIT, S_FIT, Ar_FIT, Ca_FIT, Fe_FIT):
    p.line(x=[10 ** fit[0], 10 ** fit[2]], y=[10 ** fit[1], 10 ** fit[3]],
           line_color="#222222", line_width=2.2, line_dash="7 4")

for txt, lx, ly in ELEMENT_LABELS:
    p.add_layout(Label(x=10 ** lx, y=10 ** ly, text=txt, text_font=FONT,
                       text_font_size="27px", text_color=TXT, text_align="left",
                       text_baseline="middle"))

# legend: box, error-bar symbols, then two transparent legend columns on top
LG_X, LG_Y, LG_W, LG_H = 47, 49, 317, 179
screen_box(p, LG_X, LG_X + LG_W, LG_Y, LG_Y + LG_H, fill_color="white", fill_alpha=0.9,
           line_color="#cccccc", line_width=1.2)
row_tops = [LG_Y + LG_H - 3 - 14 - 29 * i for i in range(6)]
legend_bars(p, LG_X + 3 + 27, row_tops[:6])
legend_bars(p, LG_X + 166 + 3 + 27, row_tops[:5])

items = []
for exp in EXPERIMENTS:
    dot = p.scatter(x=[1e-12], y=[1e-45], size=MS, fill_color=COLORS[exp], line_color=EDGE,
                    line_width=0.8)
    items.append(LegendItem(label=exp, renderers=[dot]))

leg_kw = dict(orientation="vertical", glyph_width=54, glyph_height=28, spacing=1,
              padding=3, margin=0, label_standoff=9, label_text_font=FONT,
              label_text_font_size="19px", label_text_color=TXT, label_height=20,
              border_line_alpha=0, background_fill_alpha=0)
leg1 = Legend(items=items[:6], location=(LG_X, LG_Y), label_width=100, **leg_kw)
leg2 = Legend(items=items[6:], location=(LG_X + 166, LG_Y + 29), label_width=80, **leg_kw)
p.add_layout(leg1)
p.add_layout(leg2)

# ------------------------------------------------------------------
# INSET  (left border equal to the main plot's, as the column aligns them)
# ------------------------------------------------------------------
ins = figure(frame_width=405, frame_height=268, x_axis_type="log", y_axis_type="log",
             x_range=Range1d(1, 2630), y_range=Range1d(1, 30),
             output_backend="svg", toolbar_location=None,
             min_border_left=MB_LEFT, min_border_right=1, min_border_top=0, min_border_bottom=50,
             background_fill_color="white", border_fill_alpha=0)
ins.outline_line_color = SPINE
ins.outline_line_width = 1.5

ix_tick = FixedTicker(ticks=[1, 10, 100, 1000],
                      minor_ticks=[m * 10 ** k for k in range(0, 3) for m in range(2, 10)] + [2000])
iy_tick = FixedTicker(ticks=[1, 10], minor_ticks=[2, 3, 4, 5, 6, 7, 8, 9, 20, 30])
num_fmt = CustomJSTickFormatter(code="return String(Math.round(tick));")
style_axis(ins.xaxis[0], ix_tick, num_fmt, "21px", 5, 16, 9)
style_axis(ins.yaxis[0], iy_tick, num_fmt, "21px", 7, 16, 9)
axis_title(ins.xaxis[0], "Particle Rigidity [GV]", "23px", -6)
axis_title(ins.yaxis[0], "H/He", "23px", -8)
iax_r = LogAxis()
style_axis(iax_r, iy_tick, blank, "1px", 0, 16, 9)
ins.add_layout(iax_r, "right")
iax_t = LogAxis()
style_axis(iax_t, ix_tick, blank, "1px", 0, 16, 9)
ins.add_layout(iax_t, "above")
for g, t in ((ins.xgrid[0], ix_tick), (ins.ygrid[0], iy_tick)):
    g.ticker = t
    g.grid_line_color = "#d6d6d6"
    g.grid_line_width = 1.3
    g.minor_grid_line_color = "#ebebeb"
    g.minor_grid_line_width = 1.0

INSET_COLORS = {"PAMELA": "#66aadc", "AMS02": "#bcbd22"}
draw(ins, RATIO_PAMELA, INSET_COLORS["PAMELA"])
draw(ins, RATIO_AMS02, INSET_COLORS["AMS02"])

IL_X, IL_Y, IL_W, IL_H = 26, 18, 150, 63
screen_box(ins, IL_X, IL_X + IL_W, IL_Y, IL_Y + IL_H, fill_color="white", fill_alpha=0.9,
           line_color="#cccccc", line_width=1.2)
legend_bars(ins, IL_X + 3 + 25, [IL_Y + IL_H - 3 - 14, IL_Y + IL_H - 3 - 14 - 29])

iitems = []
for exp in ("PAMELA", "AMS02"):
    dot = ins.scatter(x=[1e-3], y=[1e-3], size=MS, fill_color=INSET_COLORS[exp],
                      line_color=EDGE, line_width=0.8)
    iitems.append(LegendItem(label=exp, renderers=[dot]))
ileg = Legend(items=iitems, location=(IL_X, IL_Y), orientation="vertical", glyph_width=50,
              glyph_height=28, spacing=1, padding=3, margin=0, label_standoff=12,
              label_width=60, label_height=20, label_text_font=FONT,
              label_text_font_size="19px", label_text_color=TXT,
              border_line_alpha=0, background_fill_alpha=0)
ins.add_layout(ileg)

# inset frame starts at x = 764 px, its top close to the page top
ins.margin = (-MAIN_H - 3, 0, 0, 764 - MB_LEFT)

layout = column(p, ins)
open("out.html", "w").write(file_html(layout, INLINE))
